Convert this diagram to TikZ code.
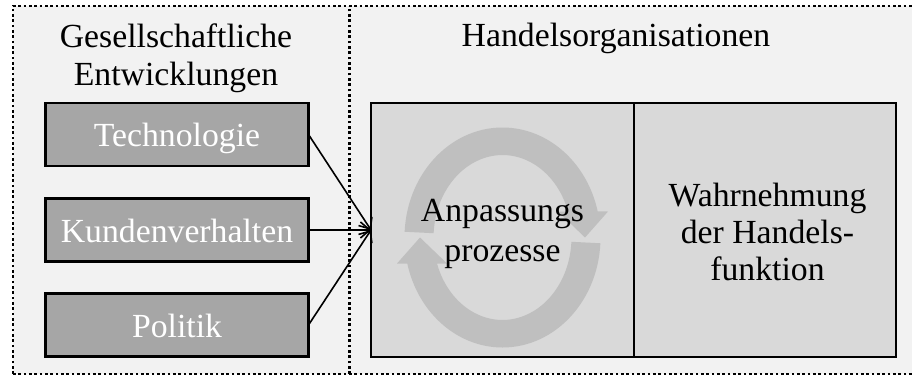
\documentclass[tikz,border=0pt]{standalone}
\usepackage{fontspec}
\setmainfont{Liberation Serif}
\usetikzlibrary{arrows.meta}

\definecolor{panelbg}{RGB}{242,242,242}
\definecolor{cellgray}{RGB}{217,217,217}
\definecolor{boxgray}{RGB}{166,166,166}
\definecolor{ringgray}{RGB}{191,191,191}

\begin{document}
\begin{tikzpicture}[x=0.75pt,y=0.75pt,
  every node/.style={inner sep=0pt, outer sep=0pt},
  heading/.style={font=\fontsize{25.3pt}{28.5pt}\selectfont, align=center},
  txt/.style={font=\fontsize{25.3pt}{#1}\selectfont, align=center},
  factorbox/.style={draw=black, line width=2pt, fill=boxgray, text=white,
    minimum width=197.25pt, minimum height=47.25pt,
    font=\fontsize{25.3pt}{28.5pt}\selectfont, text height=18.3pt, text depth=0pt},
  cellbox/.style={draw=black, line width=2pt, fill=cellgray,
    minimum height=190.5pt},
  frameline/.style={line width=2pt, dash pattern=on 2pt off 2pt},
  conn/.style={line width=1.2pt, -{Straight Barb[length=7pt,width=12pt]}},
  ring/.style={fill=ringgray}
]
\useasboundingbox (0,0) rectangle (912,376);
\clip (0,0) rectangle (912,376);

% dotted outer frame with the two panels
\fill[panelbg] (13,2) rectangle (913,370);
\draw[frameline] (13,2) rectangle (913,370);
\draw[frameline] (349.5,2) -- (349.5,370);

% panel headings (base = baseline of the last line)
\node[heading, anchor=base] (lefttitle) at (176,291) {Gesellschaftliche\\Entwicklungen};
\node[heading, anchor=base] (righttitle) at (616,329.3) {Handelsorganisationen};

% societal factors
\node[factorbox] (tech) at (177,241.5) {Technologie};
\node[factorbox] (kunden) at (177,146) {Kundenverhalten};
\node[factorbox] (politik) at (177,51) {Politik};

% trade organisation cells
\node[cellbox, minimum width=197.25pt] (anp) at (502.5,146) {};
\node[cellbox, minimum width=196.5pt] (wahr) at (765,146) {};

% circular arrows behind the adaptation text
\begin{scope}[shift={(502.5,138.5)}]
  \fill[ring] (177:98 and 110) arc[start angle=177, end angle=13.7, x radius=98, y radius=110]
    -- (105.5,26) -- (82.5,0) -- (55.5,26) -- (65.5,26)
    arc[start angle=18.4, end angle=177, x radius=69, y radius=82.5] -- cycle;
  \fill[ring, rotate=180] (177:98 and 110) arc[start angle=177, end angle=13.7, x radius=98, y radius=110]
    -- (105.5,26) -- (82.5,0) -- (55.5,26) -- (65.5,26)
    arc[start angle=18.4, end angle=177, x radius=69, y radius=82.5] -- cycle;
\end{scope}

\node[txt=30pt, anchor=base] (anptext) at (502.5,114.3) {Anpassungs\\prozesse};
\node[txt=27.75pt, anchor=base] (wahrtext) at (767.5,95.3) {Wahrnehmung\\der Handels-\\funktion};

% influences
\draw[conn] (tech.east) -- (anp.west);
\draw[conn] (kunden.east) -- (anp.west);
\draw[conn] (politik.east) -- (anp.west);
\end{tikzpicture}
\end{document}
